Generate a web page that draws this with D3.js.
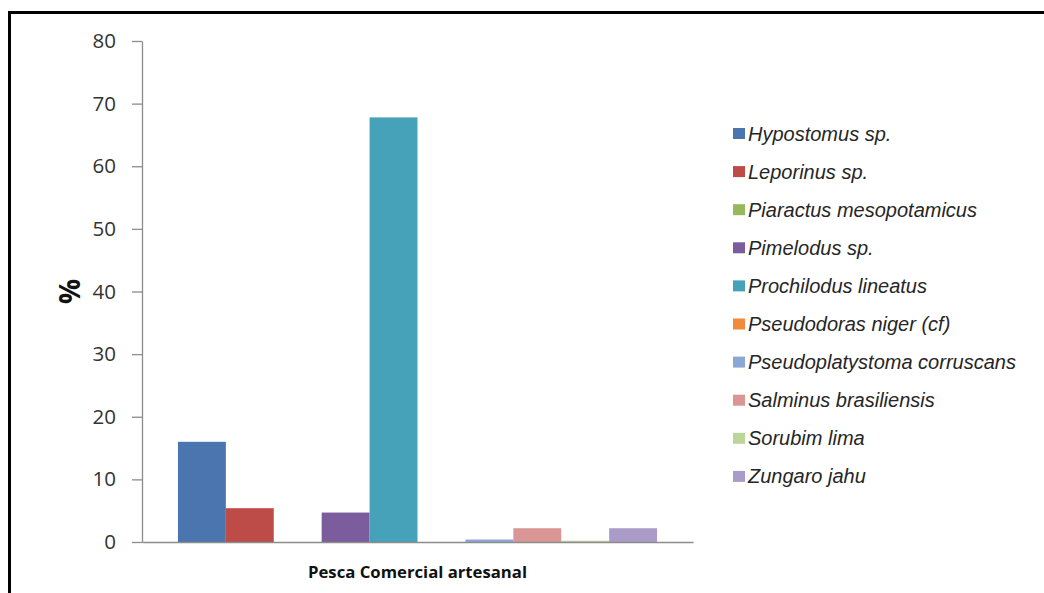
<!DOCTYPE html>
<html>
<head>
<meta charset="utf-8">
<script src="https://cdn.jsdelivr.net/npm/d3@7"></script>
<style>
  html, body { margin: 0; padding: 0; background: #fff; }
  svg { display: block; }
</style>
</head>
<body>
<svg id="chart" width="1044" height="593"></svg>
<script>
// ---- data ----
const categories = ["Pesca Comercial artesanal"];
const species = [
  "Hypostomus sp.",
  "Leporinus sp.",
  "Piaractus mesopotamicus",
  "Pimelodus sp.",
  "Prochilodus lineatus",
  "Pseudodoras niger (cf)",
  "Pseudoplatystoma corruscans",
  "Salminus brasiliensis",
  "Sorubim lima",
  "Zungaro jahu"
];
const values = [16.0, 5.4, 0, 4.7, 67.8, 0, 0.4, 2.2, 0.2, 2.2];
const colors = ["#4a75ae", "#bd4b48", "#96b85a", "#7b5c9d", "#45a2b9",
                "#f08a3c", "#8ba7d6", "#d99694", "#bcd59a", "#ab9bc8"];
const yTicks = [0, 10, 20, 30, 40, 50, 60, 70, 80];
const yTitle = "%";

// ---- layout ----
const svg = d3.select("#chart");
const mLeft = 142, mRight = 693, mTop = 41, mBottom = 542;

// outer frame (only left and top edges visible in the crop)
svg.append("rect")
  .attr("x", 9.5).attr("y", 12.5)
  .attr("width", 1200).attr("height", 700)
  .attr("fill", "none").attr("stroke", "#000").attr("stroke-width", 3);

const x0 = d3.scaleBand().domain(categories).range([mLeft, mRight]).padding(0);
const x1 = d3.scaleBand().domain(species).range([0, x0.bandwidth()])
  .paddingInner(0).paddingOuter(0.75);
const y = d3.scaleLinear().domain([0, 80]).range([mBottom, mTop]);
const color = d3.scaleOrdinal().domain(species).range(colors);

// y axis
const yAxis = d3.axisLeft(y).tickValues(yTicks).tickSize(10).tickSizeOuter(0).tickPadding(16);
const gy = svg.append("g").attr("transform", `translate(${mLeft},0)`).call(yAxis);
gy.select(".domain").attr("stroke", "#8c8c8c").attr("stroke-width", 1.3);
gy.selectAll(".tick line").attr("stroke", "#8c8c8c").attr("stroke-width", 1.3);
gy.selectAll(".tick text")
  .attr("font-family", "'Open Sans', sans-serif")
  .attr("font-size", 20.5)
  .attr("fill", "#333");

// bars
const gBars = svg.append("g");
categories.forEach(cat => {
  gBars.selectAll(null)
    .data(species.map((s, i) => ({ s, v: values[i] })))
    .join("rect")
    .attr("x", d => x0(cat) + x1(d.s))
    .attr("y", d => y(d.v))
    .attr("width", x1.bandwidth())
    .attr("height", d => y(0) - y(d.v))
    .attr("fill", d => color(d.s));
});

// x axis (category axis)
const xAxis = d3.axisBottom(x0).tickSize(0).tickSizeOuter(0).tickPadding(25);
const gx = svg.append("g").attr("transform", `translate(0,${mBottom})`).call(xAxis);
gx.select(".domain").attr("stroke", "#8c8c8c").attr("stroke-width", 1.3);
gx.selectAll(".tick text")
  .attr("font-family", "'Open Sans', sans-serif")
  .attr("font-weight", "bold")
  .attr("font-size", 16)
  .attr("fill", "#111")
  .attr("textLength", 219)
  .attr("lengthAdjust", "spacingAndGlyphs");

// y title
svg.append("text")
  .attr("transform", `translate(80,${(mTop + mBottom) / 2}) rotate(-90)`)
  .attr("text-anchor", "middle")
  .attr("font-family", "'Open Sans', sans-serif")
  .attr("font-weight", "bold")
  .attr("font-size", 28)
  .attr("fill", "#111")
  .text(yTitle);

// legend
const legend = svg.append("g").attr("transform", "translate(733,134)");
const row = legend.selectAll("g").data(species).join("g")
  .attr("transform", (d, i) => `translate(0,${i * 38.1})`);
row.append("rect")
  .attr("x", 0).attr("y", -6).attr("width", 12).attr("height", 11)
  .attr("fill", d => color(d));
row.append("text")
  .attr("x", 15).attr("y", 6.5)
  .attr("font-family", "'Liberation Sans', Arial, sans-serif")
  .attr("font-style", "italic")
  .attr("font-size", 20)
  .attr("fill", "#262626")
  .text(d => d);
</script>
</body>
</html>
